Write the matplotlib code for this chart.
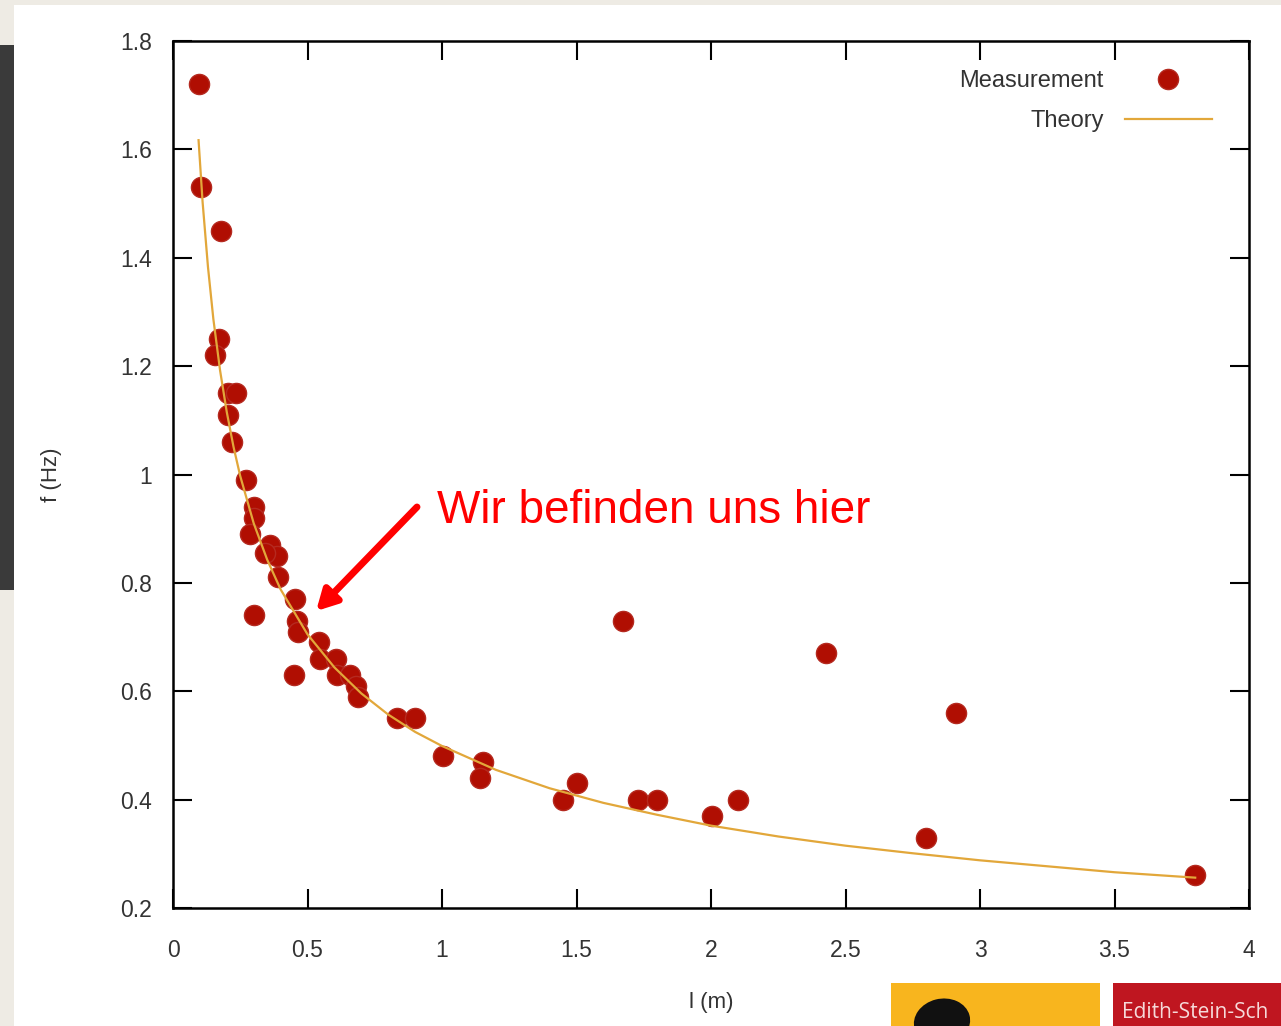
import numpy as np
import matplotlib
matplotlib.use("Agg")
import matplotlib.pyplot as plt
from matplotlib.patches import Rectangle, Ellipse

# measured pendulum data: length l (m) and frequency f (Hz)
l_meas = [0.097, 0.104, 0.178, 0.171, 0.156, 0.204, 0.234, 0.204, 0.219,
          0.272, 0.302, 0.302, 0.286, 0.360, 0.387, 0.342, 0.390, 0.454,
          0.302, 0.462, 0.465, 0.542, 0.546, 0.606, 0.610, 0.658, 0.680,
          0.688, 0.450, 0.833, 0.900, 1.673, 1.004, 1.152, 1.141, 1.450,
          1.502, 1.729, 1.799, 2.004, 2.100, 2.428, 2.799, 2.911, 3.799]
f_meas = [1.72, 1.53, 1.45, 1.25, 1.22, 1.15, 1.15, 1.11, 1.06,
          0.99, 0.94, 0.92, 0.89, 0.87, 0.85, 0.855, 0.81, 0.77,
          0.74, 0.73, 0.71, 0.69, 0.66, 0.66, 0.63, 0.63, 0.61,
          0.59, 0.63, 0.55, 0.55, 0.73, 0.48, 0.47, 0.44, 0.40,
          0.43, 0.40, 0.40, 0.37, 0.40, 0.67, 0.33, 0.56, 0.26]

# theory curve
l_theo = [0.095, 0.11, 0.13, 0.15, 0.175, 0.2, 0.225, 0.25, 0.3, 0.35, 0.4,
          0.5, 0.6, 0.7, 0.8, 0.9, 1.0, 1.2, 1.4, 1.6, 1.8, 2.0, 2.25,
          2.5, 2.75, 3.0, 3.25, 3.5, 3.8]
f_theo = [1.617, 1.503, 1.383, 1.287, 1.192, 1.115, 1.051, 0.997, 0.910,
          0.843, 0.788, 0.705, 0.644, 0.596, 0.557, 0.525, 0.499, 0.455,
          0.421, 0.394, 0.372, 0.352, 0.332, 0.315, 0.301, 0.288, 0.277,
          0.266, 0.256]

xticks = [0, 0.5, 1, 1.5, 2, 2.5, 3, 3.5, 4]
yticks = [0.2, 0.4, 0.6, 0.8, 1.0, 1.2, 1.4, 1.6, 1.8]

plt.rcParams["font.family"] = ["Liberation Sans", "DejaVu Sans"]

W, H = 1281, 1026
fig = plt.figure(figsize=(W / 100, H / 100), dpi=100)
fig.patch.set_facecolor("#EEEBE4")

# slide decoration
fig.add_artist(Rectangle((14 / W, 0), 1 - 14 / W, 1 - 5 / H, transform=fig.transFigure,
                         facecolor="white", edgecolor="none", zorder=0))
fig.add_artist(Rectangle((0, 1 - 590 / H), 14 / W, (590 - 45) / H, transform=fig.transFigure,
                         facecolor="#3A3A3A", edgecolor="none", zorder=1))
fig.add_artist(Rectangle((891 / W, 0), (1100 - 891) / W, (1026 - 983) / H,
                         transform=fig.transFigure, facecolor="#F8B51E",
                         edgecolor="none", zorder=1))
fig.add_artist(Ellipse((942 / W, 1 - 1022 / H), 55 / W, 48 / H, angle=-30,
                       transform=fig.transFigure, facecolor="#111111",
                       edgecolor="none", zorder=2))
fig.add_artist(Rectangle((1113 / W, 0), (W - 1113) / W, (1026 - 983) / H,
                         transform=fig.transFigure, facecolor="#BF1620",
                         edgecolor="none", zorder=1))
fig.text(1122 / W, 1 - 1012 / H, "Edith-Stein-Sch", color="#F6DADA", fontsize=15,
         family="Open Sans", va="center", ha="left", zorder=3)

ax = fig.add_axes([173 / W, 1 - 908 / H, (1249 - 173) / W, (908 - 41) / H])
ax.set_facecolor("white")

ax.plot(l_meas, f_meas, "o", color="#B00E02", markeredgecolor="#B52A20",
        markersize=14.5, label="Measurement", zorder=3)
ax.plot(l_theo, f_theo, "-", color="#E2A73A", lw=1.6, label="Theory", zorder=4)

ax.set_xlim(0, 4)
ax.set_ylim(0.2, 1.8)
ax.set_xticks(xticks)
ax.set_yticks(yticks)
ax.set_xticklabels(["0", "0.5", "1", "1.5", "2", "2.5", "3", "3.5", "4"])
ax.set_yticklabels(["0.2", "0.4", "0.6", "0.8", "1", "1.2", "1.4", "1.6", "1.8"])
ax.tick_params(direction="in", length=14, width=1.5, top=True, right=True,
               labelsize=16.5, labelcolor="#333333")
ax.tick_params(axis="y", pad=15)
ax.tick_params(axis="x", pad=22)
for s in ax.spines.values():
    s.set_linewidth(1.8)

ax.set_xlabel("l (m)", fontsize=16, color="#333333", labelpad=22)
ax.set_ylabel("f (Hz)", fontsize=16, color="#333333", labelpad=42)

leg = ax.legend(loc="upper right", markerfirst=False, frameon=False, fontsize=17,
                handlelength=3.7, handletextpad=0.9, labelspacing=0.75,
                borderaxespad=0, bbox_to_anchor=(0.9745, 0.977))
for t in leg.get_texts():
    t.set_color("#333333")

ax.annotate("", xy=(0.532, 0.748), xytext=(0.907, 0.940),
            arrowprops=dict(arrowstyle="-|>,head_length=1.2,head_width=0.65",
                            color="#FF0000", lw=5, shrinkA=0, shrinkB=0))
ax.text(0.981, 0.932, "Wir befinden uns hier", color="#FF0000", fontsize=33,
        ha="left", va="center")

fig.savefig("out.png", dpi=100, facecolor=fig.get_facecolor())
